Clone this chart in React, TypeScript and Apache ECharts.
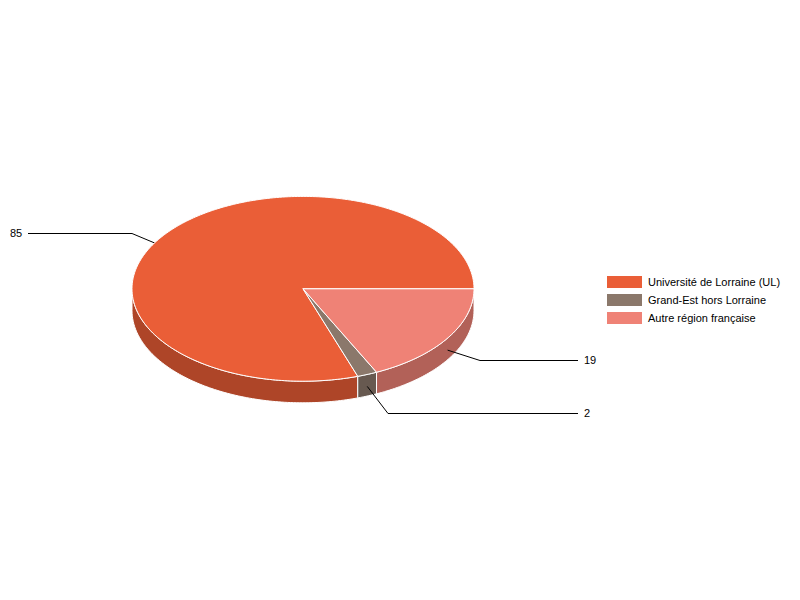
import React, { useEffect, useRef } from "react";
import * as echarts from "echarts";

const categories = ["Université de Lorraine (UL)", "Grand-Est hors Lorraine", "Autre région française"];
const values = [85, 2, 19];
const topColors = ["#EA5E37", "#8B786B", "#EF8276"];
const wallColors = ["#AE4528", "#675950", "#B26158"];

const FONT = "'Liberation Sans', Arial, sans-serif";
const CX = 303;
const CY = 288.8;
const RX = 171;
const RY = 92.4;
const DEPTH = 21.6;
const LEADER_DROP = 12;
const elbows = [[132, 233.5, 28], [388, 413.5, 578], [480, 360.5, 578]];
const textX = [10, 584, 584];

const total = values.reduce((a, b) => a + b, 0);

function rim(deg: number, dy = 0): number[] {
  const t = (deg * Math.PI) / 180;
  return [CX + RX * Math.cos(t), CY + dy + RY * Math.sin(t)];
}

function arc(from: number, to: number, dy = 0): number[][] {
  const steps = Math.max(2, Math.ceil(to - from));
  const pts: number[][] = [];
  for (let i = 0; i <= steps; i++) pts.push(rim(from + ((to - from) * i) / steps, dy));
  return pts;
}

function sliceRange(i: number): number[] {
  let before = 0;
  for (let k = 0; k < i; k++) before += values[k];
  const hi = 360 - (before / total) * 360;
  const lo = hi - (values[i] / total) * 360;
  return [lo, hi];
}

function makeRenderItem(i: number) {
  return () => {
    const [lo, hi] = sliceRange(i);
    const stroke = { stroke: "#ffffff", lineWidth: 1, lineJoin: "round" };
    const children: any[] = [];
    if (lo < 180) {
      const end = Math.min(hi, 180);
      const points = [...arc(lo, end), ...arc(lo, end, DEPTH).reverse()];
      children.push({ type: "polygon", shape: { points }, style: { fill: wallColors[i], ...stroke } });
    }
    const mid = (lo + hi) / 2;
    const [ex, ey, tx] = elbows[i];
    children.push({
      type: "polyline",
      shape: { points: [rim(mid, LEADER_DROP), [ex, ey], [tx, ey]] },
      style: { fill: "none", stroke: "#000000", lineWidth: 1 },
    });
    children.push({
      type: "polygon",
      shape: { points: [[CX, CY], ...arc(lo, hi)] },
      style: { fill: topColors[i], ...stroke },
    });
    children.push({
      type: "text",
      x: textX[i],
      y: Math.floor(ey),
      style: {
        text: String(values[i]),
        fill: "#000000",
        font: `11px ${FONT}`,
        textAlign: "left",
        textVerticalAlign: "middle",
      },
    });
    return { type: "group", children };
  };
}

export default function App() {
  const ref = useRef<HTMLDivElement>(null);
  useEffect(() => {
    const chart = echarts.init(ref.current!, null, { renderer: "svg", width: 800, height: 600 });
    chart.setOption({
      animation: false,
      backgroundColor: "#ffffff",
      color: topColors,
      legend: {
        show: true,
        orient: "vertical",
        left: 607,
        top: 276,
        padding: 0,
        itemWidth: 35,
        itemHeight: 12,
        itemGap: 6,
        icon: "rect",
        selectedMode: false,
        textStyle: { fontFamily: FONT, fontSize: 11, color: "#000000", padding: [0, 0, 0, 1] },
        data: categories,
      },
      series: categories.map((name, i) => ({
        type: "custom",
        name,
        coordinateSystem: "none",
        silent: true,
        itemStyle: { color: topColors[i] },
        data: [values[i]],
        renderItem: makeRenderItem(i),
      })),
    });
    return () => chart.dispose();
  }, []);
  return <div ref={ref} style={{ position: "absolute", left: 0, top: 0, width: 800, height: 600 }} />;
}
